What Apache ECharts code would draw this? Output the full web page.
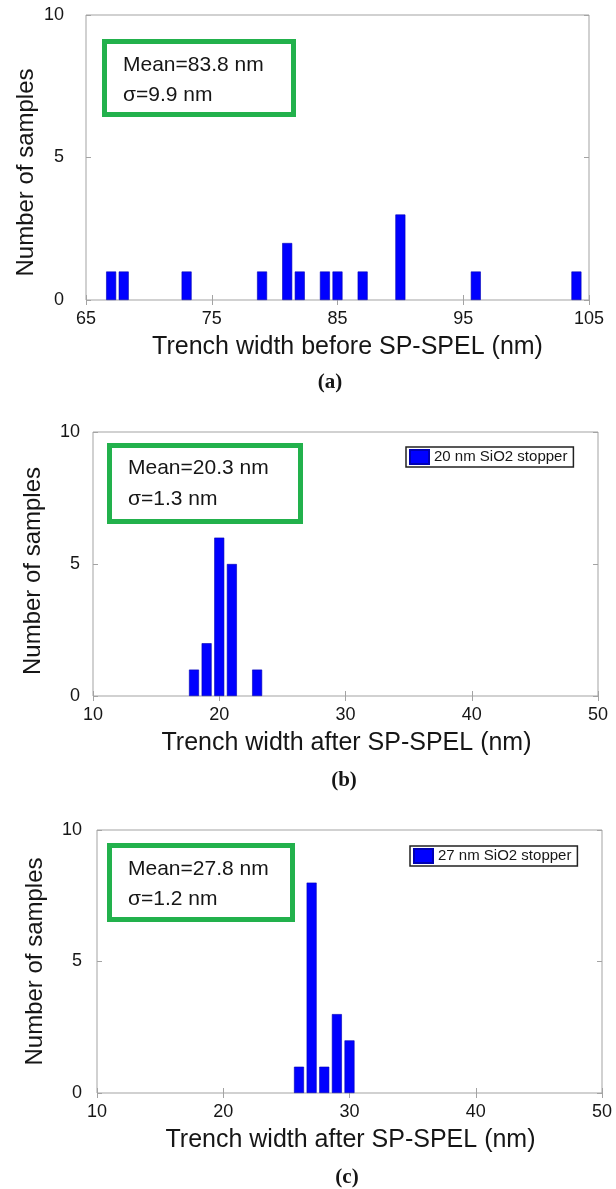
<!DOCTYPE html>
<html>
<head>
<meta charset="utf-8">
<script src="https://cdn.jsdelivr.net/npm/echarts@6/dist/echarts.min.js"></script>
<style>
  html, body { margin: 0; padding: 0; background: #fff; }
  #chart { width: 616px; height: 1189px; }
</style>
</head>
<body>
<div id="chart"></div>
<script>
  // (a) trench width before SP-SPEL
  const widthsA = [67, 68, 73, 79, 81, 82, 84, 85, 87, 90, 96, 104]
  const countsA = [1, 1, 1, 1, 2, 1, 1, 1, 1, 3, 1, 1]
  const xTicksA = [65, 75, 85, 95, 105]
  // (b) after SP-SPEL, 20 nm stopper
  const widthsB = [18, 19, 20, 21, 23]
  const countsB = [1, 2, 6, 5, 1]
  // (c) after SP-SPEL, 27 nm stopper
  const widthsC = [26, 27, 28, 29, 30]
  const countsC = [1, 8, 1, 3, 2]
  const xTicksBC = [10, 20, 30, 40, 50]
  const yTicks = [0, 5, 10]

  const seriesNames = ['before', '20 nm SiO2 stopper', '27 nm SiO2 stopper']
  const xNames = ['Trench width before SP-SPEL (nm)', 'Trench width after SP-SPEL (nm)', 'Trench width after SP-SPEL (nm)']
  const statLines = [
    ['Mean=83.8 nm', 'σ=9.9 nm'],
    ['Mean=20.3 nm', 'σ=1.3 nm'],
    ['Mean=27.8 nm', 'σ=1.2 nm']
  ]
  const tags = ['(a)', '(b)', '(c)']

  const ink = '#161616'
  const frame = '#a3a3a3'
  const green = '#22b14c'
  const sans = '"Liberation Sans", Arial, sans-serif'

  // 每个子图的布局
  const panels = [
    { widths: widthsA, counts: countsA, ticks: xTicksA, grid: { left: 86, top: 15, width: 503, height: 285 },
      yMargin: 22, yGap: 48, yPad: [0, 30, 0, 0], xPad: [0, 0, 0, 20],
      box: { x: 104.5, y: 41.5, width: 189, height: 73 }, text: { x: 123, y: 50, lh: 30 },
      tag: { x: 330, y: 383 }, legend: null },
    { widths: widthsB, counts: countsB, ticks: xTicksBC, grid: { left: 93, top: 432, width: 505, height: 264 },
      yMargin: 13, yGap: 48, yPad: [0, 14, 0, 0], xPad: [0, 0, 0, 2],
      box: { x: 109.5, y: 445.5, width: 191, height: 76 }, text: { x: 128, y: 452.5, lh: 31 },
      tag: { x: 344, y: 781 }, legend: { left: 406, top: 447 } },
    { widths: widthsC, counts: countsC, ticks: xTicksBC, grid: { left: 97, top: 830, width: 505, height: 263 },
      yMargin: 15, yGap: 50, yPad: [0, 0, 0, 0], xPad: [0, 0, 0, 2],
      box: { x: 109.5, y: 845.5, width: 183, height: 74 }, text: { x: 128, y: 854, lh: 30 },
      tag: { x: 347, y: 1178 }, legend: { left: 410, top: 846 } }
  ]

  const grid = []
  const xAxis = []
  const yAxis = []
  const series = []
  const legend = []
  const graphic = []

  const tick = { show: true, inside: true, length: 5, lineStyle: { color: frame, width: 1 } }

  panels.forEach((p, i) => {
    grid.push({ ...p.grid, show: true, borderColor: frame, borderWidth: 1, backgroundColor: 'transparent' })
    const xMin = p.ticks[0]
    const xMax = p.ticks[p.ticks.length - 1]
    const yMin = yTicks[0]
    const yMax = yTicks[yTicks.length - 1]
    xAxis.push({
      type: 'value', gridIndex: i, position: 'bottom', min: xMin, max: xMax, interval: p.ticks[1] - p.ticks[0],
      axisLine: { show: false }, axisTick: tick, splitLine: { show: false },
      axisLabel: { color: ink, fontSize: 18, fontFamily: sans, margin: 10, showMinLabel: true, showMaxLabel: true },
      name: xNames[i], nameLocation: 'middle', nameGap: 35, nameMoveOverlap: false,
      nameTextStyle: { color: ink, fontSize: 25, fontFamily: sans, padding: p.xPad }
    })
    xAxis.push({
      type: 'value', gridIndex: i, position: 'top', min: xMin, max: xMax, interval: p.ticks[1] - p.ticks[0],
      axisLine: { show: false }, axisTick: tick, splitLine: { show: false }, axisLabel: { show: false }
    })
    yAxis.push({
      type: 'value', gridIndex: i, position: 'left', min: yMin, max: yMax, interval: yTicks[1] - yTicks[0],
      axisLine: { show: false }, axisTick: tick, splitLine: { show: false },
      axisLabel: { color: ink, fontSize: 18, fontFamily: sans, margin: p.yMargin },
      name: 'Number of samples', nameLocation: 'middle', nameGap: p.yGap, nameMoveOverlap: false,
      nameTextStyle: { color: ink, fontSize: 24, fontFamily: sans, padding: p.yPad }
    })
    yAxis.push({
      type: 'value', gridIndex: i, position: 'right', min: yMin, max: yMax, interval: yTicks[1] - yTicks[0],
      axisLine: { show: false }, axisTick: tick, splitLine: { show: false }, axisLabel: { show: false }
    })
    series.push({
      name: seriesNames[i],
      type: 'bar',
      xAxisIndex: i * 2,
      yAxisIndex: i * 2,
      barWidth: 10,
      silent: true,
      itemStyle: { color: '#0000ff', borderColor: '#0000b4', borderWidth: 0.6 },
      data: p.widths.map((w, k) => [w, p.counts[k]])
    })
    if (p.legend) {
      legend.push({
        data: [seriesNames[i]], left: p.legend.left, top: p.legend.top, orient: 'horizontal',
        icon: 'rect', itemWidth: 19, itemHeight: 14, selectedMode: false,
        borderColor: '#222', borderWidth: 1.5, padding: [2, 6, 2, 3], backgroundColor: '#fff',
        textStyle: { color: ink, fontSize: 15, fontFamily: sans }
      })
    }
    // 绿色框：均值与标准差
    graphic.push({
      type: 'rect', shape: p.box, silent: true,
      style: { fill: 'none', stroke: green, lineWidth: 5 }
    })
    graphic.push({
      type: 'text', x: p.text.x, y: p.text.y, silent: true,
      style: { text: statLines[i].join('\n'), fill: ink, fontSize: 21, fontFamily: sans, lineHeight: p.text.lh, verticalAlign: 'top' }
    })
    graphic.push({
      type: 'text', x: p.tag.x, y: p.tag.y, silent: true,
      style: { text: tags[i], fill: ink, fontSize: 21, fontWeight: 'bold', fontFamily: '"Liberation Serif", serif', align: 'center', verticalAlign: 'middle' }
    })
  })

  const chart = echarts.init(document.getElementById('chart'), null, { renderer: 'canvas' })
  chart.setOption({
    animation: false,
    backgroundColor: '#fff',
    grid,
    xAxis,
    yAxis,
    legend,
    series,
    graphic
  })
</script>
</body>
</html>
